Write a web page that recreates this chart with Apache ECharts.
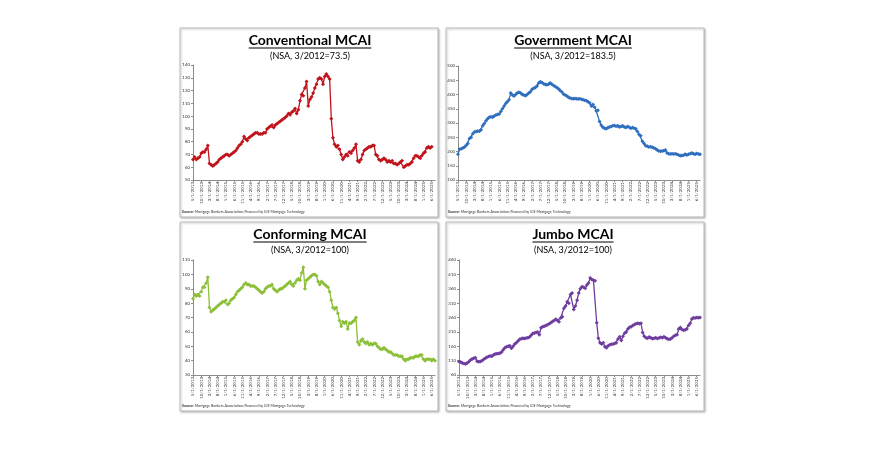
<!DOCTYPE html>
<html><head><meta charset="utf-8">
<script src="https://cdn.jsdelivr.net/npm/echarts@6/dist/echarts.min.js"></script>
<style>html,body{margin:0;padding:0;background:#fff}#c{width:883px;height:449px}</style>
</head><body><div id="c"></div>
<script>
// Monthly categories 5/2013 .. 8/2025
var startYear = 2013, startMonth = 5, nMonths = 148;
var categories = [];
for (var k = 0; k < nMonths; k++) {
  var m = (startMonth - 1 + k) % 12 + 1, y = startYear + Math.floor((startMonth - 1 + k) / 12);
  categories.push(m + '/1/' + y);
}
var titles = ['Conventional MCAI', 'Government MCAI', 'Conforming MCAI', 'Jumbo MCAI'];
var subtitles = ['(NSA, 3/2012=73.5)', '(NSA, 3/2012=183.5)', '(NSA, 3/2012=100)', '(NSA, 3/2012=100)'];
var sourceLabel = 'Source:';
var sourceText = 'Mortgage Bankers Association; Powered by ICE Mortgage Technology';
var yMin = [50, 100, 30, 60], yMax = [140, 500, 110, 460], yStep = [10, 50, 10, 50];

var conventional = [66,68,66,67,68,71,72,72,74,77,
 63,62,61,62,63,64,66,67,68,69,70,70,69,70,71,72,73,75,77,78,80,84,
 82,81,83,84,85,86,87,87,86,86,86,87,87,90,91,92,93,91,93,94,95,
 96,97,98,99,100,102,101,103,104,106,102,105,112,117,116,122,127,108,113,115,118,122,125,129,130,129,125,
 131,133,131,129,98,83,78,76,77,74,70,66,68,70,69,72,71,73,75,78,
 65,64,66,70,73,74,75,76,76,77,77,70,69,66,65,66,67,66,64,65,64,65,63,63,62,63,64,65,60,61,62,62,63,64,67,69,69,68,67,69,71,72,75,76,75,76];

var government = [190,208,210,212,216,222,228,246,250,262,268,270,272,271,276,290,298,308,315,320,322,320,325,328,330,332,340,350,360,368,375,382,
 405,398,395,400,405,408,405,400,398,396,400,405,410,418,422,425,430,440,445,442,438,435,434,436,440,436,432,428,425,420,414,410,402,398,396,390,388,386,385,386,385,384,385,383,382,380,378,375,370,360,365,355,342,345,
 305,292,285,282,280,283,286,288,290,291,289,290,286,288,290,286,284,288,285,282,284,282,280,270,260,255,236,228,220,218,216,217,215,212,210,205,202,201,202,203,205,195,192,191,192,191,192,190,188,185,186,187,190,188,190,192,195,192,190,193,191,190];

var conforming = [83,86,85,86,85,88,91,91,94,98,
 77,74,75,76,77,78,79,80,81,81,82,79,80,82,83,84,86,88,89,90,91,93,94,93,93,92,92,92,91,90,89,88,87,88,90,91,92,92,93,90,89,88,89,90,90,91,92,93,94,95,93,92,94,96,97,96,101,105,90,96,97,98,99,100,100,99,95,93,95,94,93,92,91,88,82,77,76,77,73,68,64,67,66,67,62,66,66,67,68,70,
 53,51,54,55,53,52,53,51,52,51,52,52,50,49,48,48,49,48,47,46,46,45,44,44,44,43,43,43,41,40,41,41,42,42,42,43,43,43,44,44,41,40,41,41,41,40,41,40];

var jumbo = [107,105,102,100,98,102,106,112,116,118,120,108,106,107,110,114,118,122,124,126,125,130,133,134,135,136,140,148,155,158,160,162,153,160,168,172,178,184,186,188,187,189,190,192,198,204,206,208,210,200,224,228,230,232,235,238,242,246,250,254,
 250,245,258,263,292,300,315,310,340,345,288,300,320,345,360,367,365,362,373,380,397,392,390,388,
 242,188,172,168,172,158,155,162,165,167,168,170,172,185,193,180,195,205,210,220,226,228,232,236,238,240,238,240,208,195,190,188,192,190,186,188,190,187,189,191,190,193,190,186,184,185,190,195,198,200,220,225,218,216,217,220,232,240,255,259,258,260,259,260];

var seriesData = [conventional, government, conforming, jumbo];
var colors = ['#C0141C', '#2F6FBF', '#8CBF3A', '#6F3D9E'];

var panels = [
  {x:180, y:28, w:258, h:189},
  {x:446, y:28, w:258, h:189},
  {x:180, y:222, w:258, h:189},
  {x:446, y:222, w:258, h:189}
];
var grids = [
  {left:193, top:65, width:242, height:115},
  {left:458, top:66, width:242, height:114},
  {left:193, top:260, width:242, height:115},
  {left:459, top:260, width:241, height:115}
];
var titleCx = [310, 573, 310, 573];

var FONT = 'Lato, "Open Sans", "Liberation Sans", sans-serif';
var TITLE_SIZE = 14;
var cv = document.createElement('canvas').getContext('2d');
cv.font = 'bold ' + TITLE_SIZE + 'px ' + FONT;

var graphics = [];
panels.forEach(function (p) {
  graphics.push({type:'rect', shape:{x:p.x, y:p.y, width:p.w, height:p.h},
    style:{fill:'#fff', stroke:'#BDBDBD', lineWidth:1, shadowBlur:2, shadowColor:'rgba(0,0,0,0.25)', shadowOffsetX:1, shadowOffsetY:1}, z:-10});
});
for (var i = 0; i < 4; i++) {
  var py = panels[i].y;
  graphics.push({type:'text', x:titleCx[i], y:py + 5, style:{text:titles[i], fill:'#000', font:'bold ' + TITLE_SIZE + 'px ' + FONT, align:'center', verticalAlign:'top'}});
  var w = cv.measureText(titles[i]).width;
  graphics.push({type:'line', shape:{x1:titleCx[i] - w/2, y1:py + 20, x2:titleCx[i] + w/2, y2:py + 20}, style:{stroke:'#000', lineWidth:1.2}});
  graphics.push({type:'text', x:titleCx[i], y:py + 24, style:{text:subtitles[i], fill:'#000', font:'9px ' + FONT, align:'center', verticalAlign:'top'}});
  graphics.push({type:'text', x:panels[i].x + 2, y:py + 182, style:{text:'{b|' + sourceLabel + '} ' + sourceText, fill:'#333', font:'3.6px ' + FONT, verticalAlign:'top',
    rich:{b:{fontWeight:'bold', fontSize:3.6, fontFamily:FONT, fill:'#333'}}}});
}

var xAxes = [], yAxes = [], series = [];
for (var i = 0; i < 4; i++) {
  xAxes.push({type:'category', gridIndex:i, data:categories, boundaryGap:false,
    axisLine:{lineStyle:{color:'#8c8c8c', width:1}},
    axisTick:{interval:4, length:2, lineStyle:{color:'#8c8c8c'}},
    axisLabel:{interval:4, rotate:90, fontSize:4.4, color:'#333', margin:2, fontFamily:FONT}});
  yAxes.push({type:'value', gridIndex:i, min:yMin[i], max:yMax[i], interval:yStep[i],
    splitLine:{show:false},
    axisLine:{show:true, lineStyle:{color:'#8c8c8c', width:1}},
    axisTick:{show:true, length:2, lineStyle:{color:'#8c8c8c'}},
    axisLabel:{fontSize:4.4, color:'#333', margin:3, fontFamily:FONT}});
  series.push({type:'line', xAxisIndex:i, yAxisIndex:i, data:seriesData[i], symbol:'diamond', symbolSize:4,
    showSymbol:true, showAllSymbol:true, lineStyle:{color:colors[i], width:1.3}, itemStyle:{color:colors[i]}, animation:false});
}

var chart = echarts.init(document.getElementById('c'), null, {renderer:'canvas'});
chart.setOption({
  backgroundColor:'#fff', animation:false,
  grid:grids, xAxis:xAxes, yAxis:yAxes, series:series, graphic:graphics
});
</script></body></html>
